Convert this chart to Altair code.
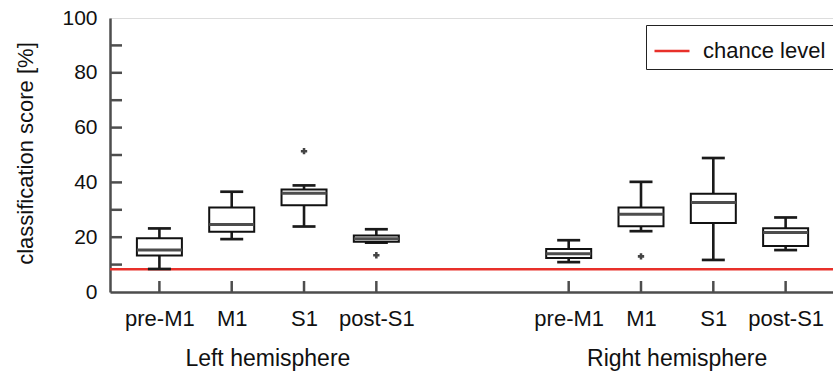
import altair as alt
import pandas as pd

# ---------------- data ----------------
REGIONS = ["pre-M1", "M1", "S1", "post-S1"]
HEMISPHERES = ["Left hemisphere", "Right hemisphere"]

LEFT_LOW = [8.4, 19.3, 23.9, 18.0]
LEFT_Q1 = [13.3, 22.0, 31.7, 18.3]
LEFT_MED = [15.3, 24.6, 36.0, 19.4]
LEFT_Q3 = [19.6, 30.8, 37.4, 20.6]
LEFT_HIGH = [23.2, 36.6, 38.9, 22.9]

RIGHT_LOW = [10.9, 22.2, 11.7, 15.3]
RIGHT_Q1 = [12.4, 24.0, 25.2, 16.8]
RIGHT_MED = [14.0, 28.4, 32.7, 21.7]
RIGHT_Q3 = [15.7, 30.8, 35.9, 23.3]
RIGHT_HIGH = [18.9, 40.2, 48.9, 27.2]

OUTLIER_HEMI = ["Left hemisphere", "Left hemisphere", "Right hemisphere"]
OUTLIER_REGION = ["S1", "post-S1", "M1"]
OUTLIER_VALUE = [51.4, 13.4, 13.0]

CHANCE_LEVEL = 8.3
Y_TICKS = [0, 20, 40, 60, 80, 100]
Y_MINOR = [10, 20, 30, 40, 50, 60, 70, 80, 90]

# ---------------- layout constants ----------------
W, H = 723, 274
GROUP_OFFSET = {"Left hemisphere": 0.0, "Right hemisphere": 5.66}
X_DOMAIN = [0.386, 10.246]
AXIS_COL = "#4d4d4d"
RED = "#e8302a"
FONT = "Liberation Sans"

rows = []
for hemi, lows, q1s, meds, q3s, highs in [
    ("Left hemisphere", LEFT_LOW, LEFT_Q1, LEFT_MED, LEFT_Q3, LEFT_HIGH),
    ("Right hemisphere", RIGHT_LOW, RIGHT_Q1, RIGHT_MED, RIGHT_Q3, RIGHT_HIGH),
]:
    for i, reg in enumerate(REGIONS):
        rows.append(dict(hemi=hemi, region=reg, pos=i + 1 + GROUP_OFFSET[hemi],
                         low=lows[i], q1=q1s[i], med=meds[i], q3=q3s[i], high=highs[i]))
box_df = pd.DataFrame(rows)

out_df = pd.DataFrame({
    "hemi": OUTLIER_HEMI, "region": OUTLIER_REGION, "v": OUTLIER_VALUE,
})
out_df["pos"] = [REGIONS.index(r) + 1 + GROUP_OFFSET[h] for h, r in zip(out_df.hemi, out_df.region)]

group_df = pd.DataFrame({"hemi": HEMISPHERES})
group_df["pos"] = [2.5 + GROUP_OFFSET[h] for h in HEMISPHERES]

chance_df = pd.DataFrame({"v": [CHANCE_LEVEL], "label": ["chance level"]})
minor_df = pd.DataFrame({"v": Y_MINOR})

x_values = sorted(box_df.pos.tolist())
label_list = "[" + ",".join("'%s'" % r for r in REGIONS) + "]"
label_expr = f"{label_list}[round(datum.value < 5 ? datum.value - 1 : datum.value - {1 + GROUP_OFFSET['Right hemisphere']})]"

x_scale = alt.Scale(domain=X_DOMAIN, nice=False, zero=False)
y_scale = alt.Scale(domain=[0, 100], nice=False)

x_axis = alt.Axis(values=x_values, labelExpr=label_expr, title=None, grid=False,
                  ticks=False, tickSize=0, labelPadding=16, labelFontSize=22,
                  labelColor="#111111", domainColor=AXIS_COL, domainWidth=2.5,
                  labelFont=FONT)
y_axis = alt.Axis(values=Y_TICKS, title="classification score [%]", grid=False,
                  ticks=False, tickSize=0, labelPadding=13, labelFontSize=21,
                  labelColor="#111111", domainColor=AXIS_COL, domainWidth=2.5,
                  titleFontSize=22, titleFontWeight="normal", titleColor="#111111",
                  titleX=-78, titleY=H / 2 - 2, titleAngle=270, titleBaseline="alphabetic",
                  titleAlign="center", labelFont=FONT, titleFont=FONT)

X = alt.X("pos:Q", scale=x_scale, axis=x_axis)
base = alt.Chart(box_df)

chance = alt.Chart(chance_df).mark_rule(strokeWidth=2.5).encode(
    y=alt.Y("v:Q", scale=y_scale, axis=y_axis),
    color=alt.Color("label:N", scale=alt.Scale(domain=["chance level"], range=[RED]),
                    legend=alt.Legend(title=None, orient="none", legendX=536, legendY=7,
                                      symbolType="stroke", symbolSize=1225,
                                      symbolStrokeWidth=2.5, labelFontSize=22,
                                      labelFont=FONT, labelColor="#111111",
                                      labelOffset=12, padding=7,
                                      strokeColor="#222222", fillColor="white")),
)

whisk_lo = base.mark_rule(color="#1a1a1a", strokeWidth=2.6).encode(
    x=X, y=alt.Y("low:Q", scale=y_scale), y2="q1:Q")
whisk_hi = base.mark_rule(color="#1a1a1a", strokeWidth=2.6).encode(
    x=X, y=alt.Y("q3:Q", scale=y_scale), y2="high:Q")
cap_lo = base.mark_tick(orient="horizontal", size=23, thickness=2.7, color="#1a1a1a", opacity=1).encode(
    x=X, y=alt.Y("low:Q", scale=y_scale))
cap_hi = base.mark_tick(orient="horizontal", size=23, thickness=2.7, color="#1a1a1a", opacity=1).encode(
    x=X, y=alt.Y("high:Q", scale=y_scale))
boxes = base.mark_bar(size=45, fill="white", stroke="#111111", strokeWidth=2).encode(
    x=X, y=alt.Y("q1:Q", scale=y_scale), y2="q3:Q")
medians = base.mark_tick(orient="horizontal", size=45, thickness=3, color=AXIS_COL, opacity=1).encode(
    x=X, y=alt.Y("med:Q", scale=y_scale))
outliers = alt.Chart(out_df).mark_point(shape="cross", filled=True, size=40,
                                        color="#444444", opacity=1).encode(
    x=X, y=alt.Y("v:Q", scale=y_scale))

minor_ticks = alt.Chart(minor_df).mark_rule(color=AXIS_COL, strokeWidth=2.5).encode(
    x=alt.value(0), x2=alt.value(12), y=alt.Y("v:Q", scale=y_scale))
x_ticks = base.mark_rule(color=AXIS_COL, strokeWidth=2.5).encode(
    x=X, y=alt.value(H - 11), y2=alt.value(H))

group_labels = alt.Chart(group_df).mark_text(fontSize=23, font=FONT, color="#111111",
                                             baseline="alphabetic", align="center").encode(
    x=X, y=alt.value(H + 74), text="hemi:N")

chart = alt.layer(
    chance, whisk_lo, whisk_hi, cap_lo, cap_hi, boxes, medians, outliers,
    minor_ticks, x_ticks, group_labels,
).properties(
    width=W, height=H,
    padding={"left": 110, "top": 18, "right": 0, "bottom": 83},
    autosize=alt.AutoSizeParams(type="none"),
).configure_view(stroke=None).configure(font=FONT, background="white")

chart.save("out.html", embed_options={"renderer": "svg", "actions": False})
